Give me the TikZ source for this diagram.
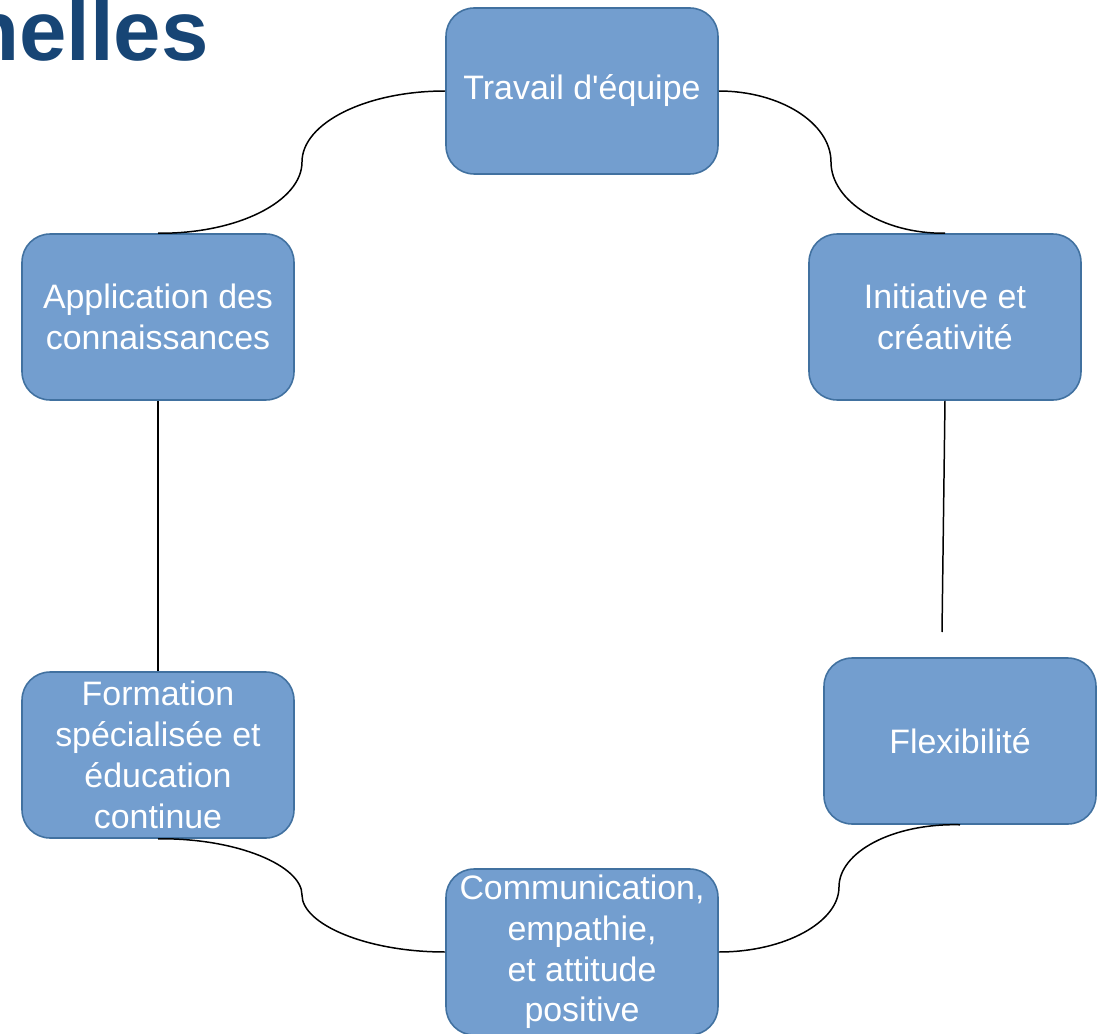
\documentclass[tikz,border=0pt]{standalone}
\usepackage{fontspec}
\setmainfont{Liberation Sans}
\definecolor{boxfill}{RGB}{115,158,207}
\definecolor{boxline}{RGB}{65,113,160}
\definecolor{titleblue}{RGB}{23,69,117}
\tikzset{
  skillbox/.style={draw=boxline, line width=0.9pt, fill=boxfill, rounded corners=0.56cm,
    minimum width=5.44cm, minimum height=3.32cm, inner sep=0pt, align=center,
    text=white, font=\fontsize{19.3}{23.2}\selectfont},
  link/.style={line width=0.85pt, black}
}
\begin{document}
\begin{tikzpicture}[x=0.02cm, y=-0.02cm]
  \useasboundingbox (0,0) rectangle (1100,1034);

  % Title (cut at the left edge)
  \node[anchor=base east, inner sep=0pt, text=titleblue,
    font=\fontsize{48.5}{50}\selectfont\bfseries] (titre) at (209,61) {nelles};

  % Boxes
  \node[skillbox] (equipe) at (582,91) {Travail d\textquotesingle équipe};
  \node[skillbox] (initiative) at (945,317) {Initiative et\\créativité};
  \node[skillbox] (flex) at (960,741) {Flexibilité};
  \node[skillbox] (comm) at (582,952) {Communication,\\empathie,\\et attitude\\positive};
  \node[skillbox] (formation) at (158,755) {Formation\\spécialisée et\\éducation\\continue};
  \node[skillbox] (appli) at (158,317) {Application des\\connaissances};

  % Links
  \coordinate (flexend) at (942,632);
  \draw[link] (equipe.west) .. controls (366,91) and (302,123) .. (302,162)
    .. controls (302,201) and (238,234) .. (appli.north);
  \draw[link] (equipe.east) .. controls (780,91) and (831,123) .. (831,162)
    .. controls (831,201) and (883,234) .. (initiative.north);
  \draw[link] (initiative.south) -- (flexend);
  \draw[link] (appli.south) -- (formation.north);
  \draw[link] (formation.south) .. controls (238,838) and (302,866) .. (302,895)
    .. controls (302,924) and (366,952) .. (comm.west);
  \draw[link] (comm.east) .. controls (785,952) and (839,922) .. (839,887)
    .. controls (839,852) and (893,823) .. (flex.south);
\end{tikzpicture}
\end{document}
